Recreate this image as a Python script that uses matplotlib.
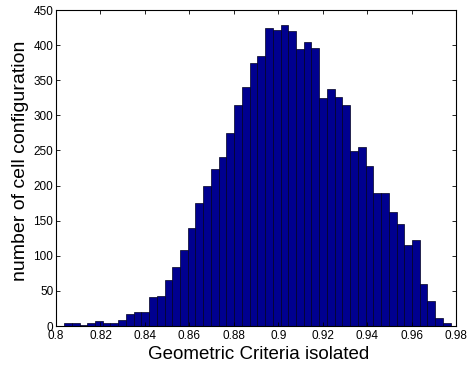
import matplotlib
matplotlib.use("Agg")
import matplotlib.pyplot as plt
import numpy as np

# histogram data (50 bins)
bin_start = 0.8036
bin_end = 0.9776
counts = [4, 5, 1, 5, 7, 4, 5, 8, 17, 20,
          20, 42, 43, 65, 84, 108, 140, 175, 199, 224,
          241, 275, 315, 340, 374, 384, 424, 421, 429, 420,
          395, 404, 396, 324, 337, 326, 315, 249, 255, 228,
          190, 190, 162, 145, 116, 122, 60, 35, 12, 5]
xticks = [0.8, 0.82, 0.84, 0.86, 0.88, 0.9, 0.92, 0.94, 0.96, 0.98]
xticklabels = ["0.8", "0.82", "0.84", "0.86", "0.88", "0.9", "0.92", "0.94", "0.96", "0.98"]
yticks = [0, 50, 100, 150, 200, 250, 300, 350, 400, 450]

plt.rcParams['font.family'] = ['Liberation Sans', 'DejaVu Sans']

fig = plt.figure(figsize=(4.67, 3.68), dpi=100)
ax = fig.add_axes([0.12, 0.1141, 0.8564, 0.8587])

edges = np.linspace(bin_start, bin_end, len(counts) + 1)
ax.bar(edges[:-1], counts, width=np.diff(edges), align='edge',
       color='#00008F', edgecolor='#000020', linewidth=0.5)

ax.set_xlim(0.8, 0.98)
ax.set_ylim(0, 450)
ax.set_xticks(xticks)
ax.set_xticklabels(xticklabels)
ax.set_yticks(yticks)
ax.tick_params(direction='in', top=True, right=True, labelsize=8.5,
               length=3, width=0.6, pad=2)
ax.tick_params(axis='x', pad=3)
for s in ax.spines.values():
    s.set_linewidth(0.8)
ax.set_xlabel("Geometric Criteria isolated", fontsize=13.5, labelpad=1)
ax.set_ylabel("number of cell configuration", fontsize=14, va='center')
ax.yaxis.set_label_coords(-0.088, 0.522)
ax.xaxis.set_label_coords(0.5075, -0.064)

fig.savefig("out.png", dpi=100)
